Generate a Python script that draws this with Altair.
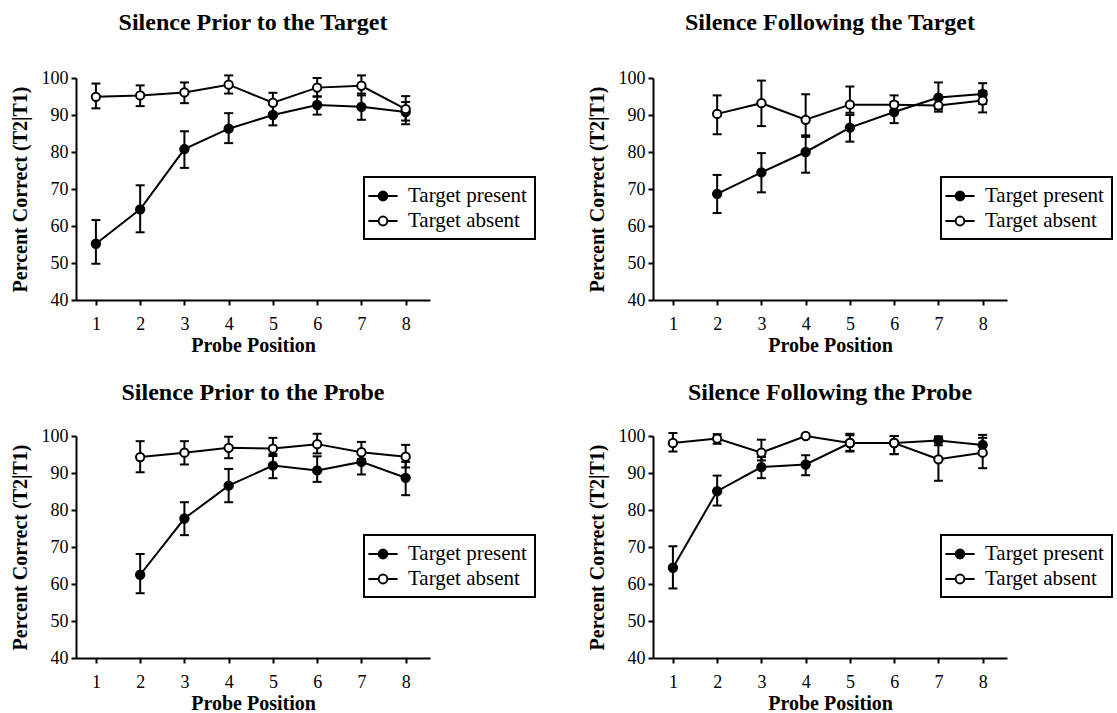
import altair as alt
import pandas as pd

positions = [1, 2, 3, 4, 5, 6, 7, 8]
series_names = ["Target present", "Target absent"]
panel_titles = [
    "Silence Prior to the Target",
    "Silence Following the Target",
    "Silence Prior to the Probe",
    "Silence Following the Probe",
]
x_ticks = [1, 2, 3, 4, 5, 6, 7, 8]
y_ticks = [40, 50, 60, 70, 80, 90, 100]

# Panel 1: Silence Prior to the Target
p1_present = [55.2, 64.5, 80.8, 86.3, 90.0, 92.7, 92.2, 90.8]
p1_present_lo = [49.8, 58.3, 75.7, 82.4, 87.2, 90.1, 88.7, 87.5]
p1_present_hi = [61.6, 71.0, 85.6, 90.5, 92.8, 95.0, 95.8, 93.5]
p1_absent = [94.9, 95.3, 96.1, 98.2, 93.3, 97.4, 97.9, 91.6]
p1_absent_lo = [91.8, 92.4, 93.2, 95.8, 90.5, 95.0, 95.3, 88.5]
p1_absent_hi = [98.5, 98.0, 98.8, 100.7, 96.0, 100.0, 100.7, 95.1]

# Panel 2: Silence Following the Target
p2_present = [None, 68.7, 74.5, 80.0, 86.6, 90.8, 94.7, 95.7]
p2_present_lo = [None, 63.5, 69.1, 74.4, 82.8, 87.8, 91.5, 93.0]
p2_present_hi = [None, 73.8, 79.7, 84.5, 90.0, 93.5, 98.8, 98.6]
p2_absent = [None, 90.3, 93.2, 88.7, 92.8, 92.8, 92.6, 93.9]
p2_absent_lo = [None, 84.8, 87.0, 84.1, 90.6, 91.2, 90.9, 90.7]
p2_absent_hi = [None, 95.3, 99.3, 95.6, 97.7, 95.3, 94.5, 96.5]

# Panel 3: Silence Prior to the Probe
p3_present = [None, 62.5, 77.7, 86.6, 92.0, 90.7, 93.0, 88.7]
p3_present_lo = [None, 57.5, 73.2, 82.1, 88.6, 87.6, 89.6, 84.0]
p3_present_hi = [None, 68.1, 82.1, 91.1, 94.6, 94.5, 95.5, 93.0]
p3_absent = [None, 94.3, 95.5, 96.8, 96.6, 97.8, 95.6, 94.4]
p3_absent_lo = [None, 90.2, 92.3, 94.0, 95.1, 95.3, 93.8, 91.5]
p3_absent_hi = [None, 98.6, 98.6, 99.8, 99.5, 100.6, 98.4, 97.6]

# Panel 4: Silence Following the Probe
p4_present = [64.4, 85.1, 91.6, 92.3, 98.1, 98.1, 98.8, 97.6]
p4_present_lo = [58.8, 81.2, 88.6, 89.4, 96.0, 95.1, 97.5, 95.0]
p4_present_hi = [70.2, 89.3, 94.3, 94.8, 100.2, 100.0, 99.9, 100.3]
p4_absent = [98.1, 99.3, 95.5, 100.0, 98.1, 98.1, 93.7, 95.5]
p4_absent_lo = [95.8, 97.9, 93.4, None, 95.8, 95.1, 87.9, 91.3]
p4_absent_hi = [100.8, 100.5, 99.0, None, 100.6, 100.0, 99.5, 99.5]

FONT = "Liberation Serif"
LEGEND_PATH = ("M -1.5 0 L -0.45 0 M 0.45 0 L 1.5 0 "
               "M 0.45 0 A 0.45 0.45 0 1 1 -0.45 0 A 0.45 0.45 0 1 1 0.45 0 Z")


def build_df(present, present_lo, present_hi, absent, absent_lo, absent_hi):
    rows = []
    for name, vals, los, his in (
        (series_names[0], present, present_lo, present_hi),
        (series_names[1], absent, absent_lo, absent_hi),
    ):
        for pos, v, lo, hi in zip(positions, vals, los, his):
            if v is None:
                continue
            rows.append({"pos": pos, "series": name, "val": v, "lo": lo, "hi": hi})
    return pd.DataFrame(rows)


def panel(title, df, title_offset):
    base = alt.Chart(df)
    x = alt.X(
        "pos:Q",
        scale=alt.Scale(domain=[0.55, 8.55], nice=False, zero=False),
        axis=alt.Axis(values=x_ticks, title="Probe Position", labelPadding=10, titlePadding=2),
    )
    y_axis = alt.Axis(values=y_ticks, title="Percent Correct (T2|T1)", labelPadding=3, titlePadding=11)
    yscale = alt.Scale(domain=[40, 100], nice=False, zero=False)
    rules = base.mark_rule(color="black", strokeWidth=2).encode(
        x=x, y=alt.Y("lo:Q", scale=yscale, axis=y_axis), y2="hi:Q"
    )
    caps_lo = base.mark_tick(orient="horizontal", color="black", size=9, thickness=2, opacity=1).encode(
        x=x, y=alt.Y("lo:Q", scale=yscale, axis=y_axis)
    )
    caps_hi = base.mark_tick(orient="horizontal", color="black", size=9, thickness=2, opacity=1).encode(
        x=x, y=alt.Y("hi:Q", scale=yscale, axis=y_axis)
    )
    line = base.mark_line(color="black", strokeWidth=2).encode(
        x=x, y=alt.Y("val:Q", scale=yscale, axis=y_axis), detail="series:N"
    )
    points = base.mark_point(filled=True, size=70, stroke="black", strokeWidth=2, opacity=1).encode(
        x=x,
        y=alt.Y("val:Q", scale=yscale, axis=y_axis),
        fill=alt.Fill(
            "series:N",
            scale=alt.Scale(domain=series_names, range=["black", "white"]),
            legend=alt.Legend(
                title=None,
                orient="none",
                legendX=288,
                legendY=99,
                symbolType=LEGEND_PATH,
                symbolSize=380,
                symbolStrokeColor="black",
                symbolStrokeWidth=2,
                labelFont=FONT,
                labelFontSize=21,
                labelColor="black",
                labelOffset=14,
                labelLimit=0,
                rowPadding=4,
                padding=8,
                strokeColor="black",
                fillColor="white",
            ),
        ),
    )
    return alt.layer(rules, caps_lo, caps_hi, line, points).properties(
        width=354,
        height=222,
        title=alt.TitleParams(
            text=title,
            font=FONT,
            fontSize=24,
            fontWeight="bold",
            color="black",
            anchor="middle",
            frame="group",
            offset=title_offset,
        ),
    )


dfs = [
    build_df(p1_present, p1_present_lo, p1_present_hi, p1_absent, p1_absent_lo, p1_absent_hi),
    build_df(p2_present, p2_present_lo, p2_present_hi, p2_absent, p2_absent_lo, p2_absent_hi),
    build_df(p3_present, p3_present_lo, p3_present_hi, p3_absent, p3_absent_lo, p3_absent_hi),
    build_df(p4_present, p4_present_lo, p4_present_hi, p4_absent, p4_absent_lo, p4_absent_hi),
]

c1 = panel(panel_titles[0], dfs[0], 34)
c2 = panel(panel_titles[1], dfs[1], 34)
c3 = panel(panel_titles[2], dfs[2], 22)
c4 = panel(panel_titles[3], dfs[3], 22)

chart = (
    alt.concat(c1, c2, c3, c4, columns=2, spacing=alt.RowColnumber(row=136, column=223), bounds="flush")
    .resolve_scale(fill="independent")
    .properties(padding={"left": 10, "top": 11, "right": 0, "bottom": 0})
    .configure_view(stroke=None)
    .configure_axis(
        grid=False,
        domainColor="black",
        domainWidth=2,
        tickColor="black",
        tickWidth=2,
        tickSize=5,
        labelFont=FONT,
        labelFontSize=18,
        labelColor="black",
        titleFont=FONT,
        titleFontSize=20,
        titleFontWeight="bold",
        titleColor="black",
    )
    .configure_legend(strokeWidth=2)
)

chart.save("out.html", embed_options={"renderer": "svg", "actions": False})
